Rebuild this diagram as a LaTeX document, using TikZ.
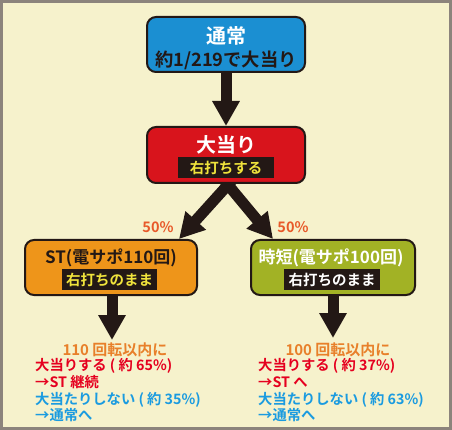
\documentclass[tikz,border=0pt]{standalone}
\usepackage{fontspec}
\setmainfont{Noto Sans CJK JP}[BoldFont={Noto Sans CJK JP Bold}]
\usetikzlibrary{arrows.meta}
\definecolor{bgc}{HTML}{F6F2CC}
\definecolor{frame}{HTML}{8C847C}
\definecolor{dark}{HTML}{231815}
\definecolor{boxblue}{HTML}{1B8FD2}
\definecolor{boxred}{HTML}{D8141C}
\definecolor{boxorange}{HTML}{EE951A}
\definecolor{boxgreen}{HTML}{A2B225}
\definecolor{pct}{HTML}{E85A2A}
\definecolor{orangetxt}{HTML}{E8802A}
\definecolor{redtxt}{HTML}{E5001F}
\definecolor{bluetxt}{HTML}{1A9BE0}
\definecolor{yellowtxt}{HTML}{F0E33C}
\pgfdeclarelayer{back}
\pgfsetlayers{back,main}
\tikzset{
  box/.style={draw=dark, line width=2pt, rounded corners=9pt, inner sep=0pt},
  bigarrow/.style={draw=dark, line width=11pt, -{Triangle[width=26pt,length=25pt]}},
  titletxt/.style={inner sep=0pt, font=\bfseries\fontsize{20}{22}\selectfont},
  midtxt/.style={inner sep=0pt, font=\bfseries\fontsize{17}{19}\selectfont},
  tag/.style={fill=dark, inner sep=0pt, minimum height=21pt, font=\bfseries\fontsize{14.5}{16}\selectfont},
  pcttxt/.style={inner sep=0pt, text=pct, font=\bfseries\fontsize{14.5}{16}\selectfont},
  headtxt/.style={inner sep=0pt, text=orangetxt, font=\bfseries\fontsize{15}{17}\selectfont},
  bodytxt/.style={inner sep=0pt, anchor=west, font=\bfseries\fontsize{14.3}{16}\selectfont},
}
\begin{document}
\begin{tikzpicture}[x=1pt,y=-1pt]
\useasboundingbox (0,0) rectangle (452,430);
% boxes
\node[box, fill=boxblue, minimum width=158pt, minimum height=55pt] (normal) at (226,44.5) {};
\node[titletxt, text=white] (normalT) at (226,36) {通常};
\node[midtxt, text=dark, font=\bfseries\fontsize{18.3}{20}\selectfont] (normalS) at (226,60) {約1/219で大当り};

\node[box, fill=boxred, minimum width=158pt, minimum height=56pt] (hit) at (226,155) {};
\node[titletxt, text=white] (hitT) at (226,145) {大当り};
\node[tag, text=yellowtxt, minimum width=96pt] (hitS) at (226,167.5) {右打ちする};

\node[box, fill=boxorange, minimum width=172pt, minimum height=55pt] (st) at (111,267.5) {};
\node[midtxt, text=dark] (stT) at (111,258) {ST(電サポ110回)};
\node[tag, text=yellowtxt, minimum width=95pt] (stS) at (109.5,279.5) {右打ちのまま};

\node[box, fill=boxgreen, minimum width=164pt, minimum height=55pt] (tm) at (333,267.5) {};
\node[midtxt, text=white] (tmT) at (331,258) {時短(電サポ100回)};
\node[tag, text=white, minimum width=96pt] (tmS) at (332,279.5) {右打ちのまま};

% percentages
\node[pcttxt] (pl) at (158,227) {50\%};
\node[pcttxt] (pr) at (293,227) {50\%};

% left results
\coordinate (stEnd) at (112,340);
\node[headtxt] (stH) at (115,350) {110 回転以内に};
\node[bodytxt, text=redtxt] (stA) at (35,366) {大当りする ( 約 65\%)};
\node[bodytxt, text=redtxt] (stB) at (35,382) {→ST 継続};
\node[bodytxt, text=bluetxt] (stC) at (35,400) {大当たりしない ( 約 35\%)};
\node[bodytxt, text=bluetxt] (stD) at (35,415) {→通常へ};

% right results
\coordinate (tmEnd) at (333,338);
\node[headtxt] (tmH) at (338,350) {100 回転以内に};
\node[bodytxt, text=redtxt] (tmA) at (258,366) {大当りする ( 約 37\%)};
\node[bodytxt, text=redtxt] (tmB) at (258,382) {→ST へ};
\node[bodytxt, text=bluetxt] (tmC) at (258,400) {大当たりしない ( 約 63\%)};
\node[bodytxt, text=bluetxt] (tmD) at (258,415) {→通常へ};

\begin{pgfonlayer}{back}
  \fill[bgc] (0,0) rectangle (452,430);
  \draw[frame, line width=3pt] (1.5,1.5) rectangle (450.5,428.5);
  \draw[bigarrow] (normal.south) -- (hit.north);
  \draw[bigarrow] ([xshift=9pt,yshift=7pt]hit.south) -- ([xshift=68pt]st.north);
  \draw[bigarrow] ([xshift=-4.5pt,yshift=7pt]hit.south) -- ([xshift=-60pt]tm.north);
  \draw[bigarrow] ([xshift=1pt]st.south) -- (stEnd);
  \draw[bigarrow] (tm.south) -- (tmEnd);
\end{pgfonlayer}
\end{tikzpicture}
\end{document}
